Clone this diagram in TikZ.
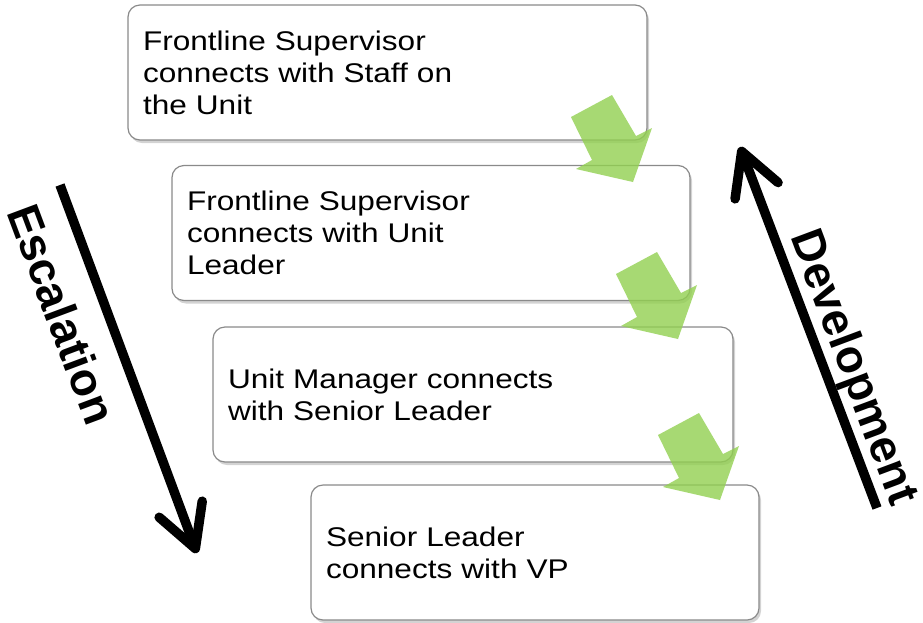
\documentclass[tikz,border=0pt]{standalone}
\usepackage{fontspec}
\setmainfont[FakeStretch=1.17]{Liberation Sans}
\newfontfamily\sidefont{Liberation Sans}
\usetikzlibrary{shadows,arrows.meta}
\definecolor{flowgreen}{HTML}{92D050}
\definecolor{boxgray}{HTML}{8A8A8A}
\tikzset{
  stepbox/.style={draw=boxgray, line width=1.2pt, rounded corners=12pt, fill=white,
    text width=#1, inner xsep=15pt, minimum height=135pt, align=left,
    font=\fontsize{27}{32}\selectfont,
    drop shadow={shadow xshift=2pt, shadow yshift=-3pt, opacity=.35}},
  flow/.style={fill=flowgreen, fill opacity=.8},
  side/.style={line width=9.5pt, -{Straight Barb[length=42pt,width=46pt,round]}},
  sidelabel/.style={font=\sidefont\bfseries\fontsize{46}{46}\selectfont, rotate=-69.5}
}
\begin{document}
\begin{tikzpicture}[x=1pt,y=-1pt]
  \useasboundingbox (0,0) rectangle (923,622);
  % steps
  \node(s1) at (387.5,72.5)[stepbox=489pt]{Frontline Supervisor\\connects with Staff on\\the Unit};
  \node(s2) at (431,233)[stepbox=488pt]{Frontline Supervisor\\connects with Unit\\Leader};
  \node(s3) at (473,394.5)[stepbox=490pt]{Unit Manager connects\\with Senior Leader};
  \node(s4) at (535,552.5)[stepbox=418pt]{Senior Leader\\connects with VP};
  % green arrows
  \foreach \dx/\dy in {0/0,45/157,87/318}
    \fill[flow,shift={(\dx,\dy)}] (571,117) -- (612,95) -- (636,136) -- (652,128)
      -- (633,182) -- (576,169) -- (592,160) -- cycle;
  % escalation
  \coordinate(e1) at (60,185);
  \coordinate(e2) at (197,553);
  \draw[side] (e1) -- (e2);
  \node(esc) at (62,314)[sidelabel]{Escalation};
  % development
  \coordinate(d1) at (877,508);
  \coordinate(d2) at (740,147);
  \draw[side] (d1) -- (d2);
  \node(dev) at (852,368)[sidelabel]{Development};
\end{tikzpicture}
\end{document}
